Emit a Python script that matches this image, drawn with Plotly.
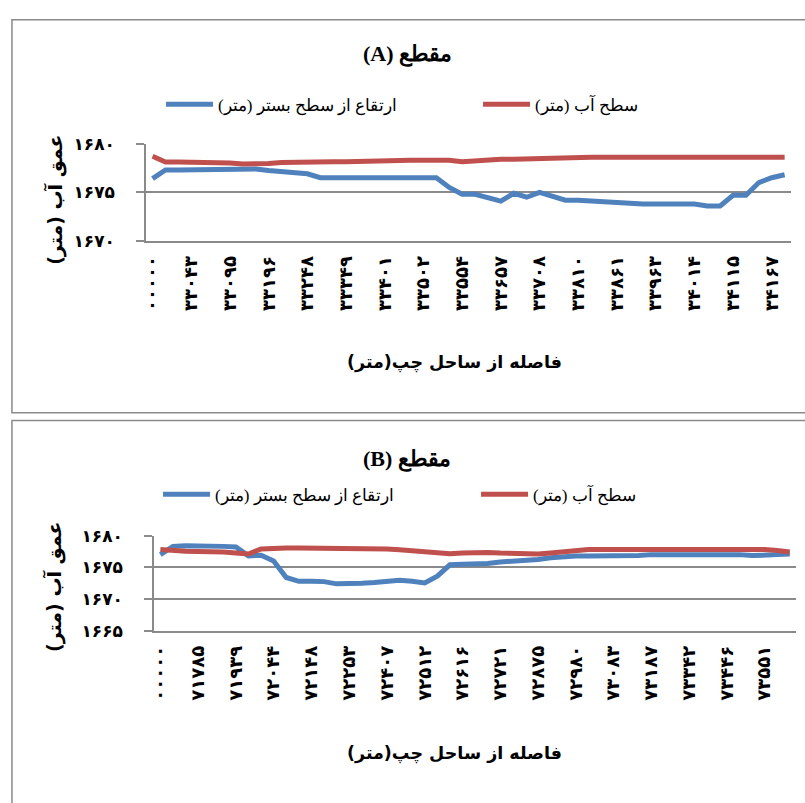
import plotly.graph_objects as go

# ---------------- data ----------------
ticks_A = ["۰۰۰۰۰", "۳۳۰۴۳", "۳۳۰۹۵", "۳۳۱۹۶", "۳۳۲۴۸", "۳۳۳۴۹", "۳۳۴۰۱", "۳۳۵۰۲", "۳۳۵۵۴",
           "۳۳۶۵۷", "۳۳۷۰۸", "۳۳۸۱۰", "۳۳۸۶۱", "۳۳۹۶۳", "۳۴۰۱۴", "۳۴۱۱۵", "۳۴۱۶۷"]
ticks_B = ["۰۰۰۰۰", "۷۱۷۸۵", "۷۱۹۳۹", "۷۲۰۴۴", "۷۲۱۴۸", "۷۲۲۵۳", "۷۲۴۰۷", "۷۲۵۱۲", "۷۲۶۱۶",
           "۷۲۷۲۱", "۷۲۸۷۵", "۷۲۹۸۰", "۷۳۰۸۳", "۷۳۱۸۷", "۷۳۳۴۲", "۷۳۴۴۶", "۷۳۵۵۱"]

bed_A = [1676.4, 1677.3, 1677.3, 1677.3, 1677.35, 1677.4, 1677.4, 1677.4, 1677.4, 1677.25,
         1677.15, 1677.05, 1676.9, 1676.5, 1676.5, 1676.5, 1676.5, 1676.5, 1676.5, 1676.5,
         1676.5, 1676.5, 1676.5, 1675.5, 1674.8, 1674.8, 1674.45, 1674.1, 1674.9, 1674.5,
         1675.0, 1674.6, 1674.2, 1674.2, 1674.1, 1674.0, 1673.9, 1673.85, 1673.8, 1673.8,
         1673.8, 1673.8, 1673.8, 1673.6, 1673.6, 1674.7, 1674.7, 1676.0, 1676.5, 1676.8]
water_A = [1678.7, 1678.1, 1678.1, 1678.1, 1678.1, 1678.1, 1678.0, 1677.9, 1677.9, 1677.95,
           1678.05, 1678.1, 1678.15, 1678.15, 1678.15, 1678.15, 1678.2, 1678.2, 1678.2, 1678.3,
           1678.3, 1678.3, 1678.3, 1678.3, 1678.15, 1678.25, 1678.35, 1678.4, 1678.4, 1678.45,
           1678.5, 1678.5, 1678.55, 1678.55, 1678.6, 1678.6, 1678.6, 1678.6, 1678.6, 1678.6,
           1678.6, 1678.6, 1678.6, 1678.6, 1678.6, 1678.6, 1678.6, 1678.6, 1678.6, 1678.6]

bed_B = [1677.0, 1678.3, 1678.4, 1678.4, 1678.35, 1678.3, 1678.2, 1676.8, 1676.9, 1676.0,
         1673.4, 1672.8, 1672.8, 1672.75, 1672.4, 1672.4, 1672.5, 1672.6, 1672.75, 1672.95,
         1672.8, 1672.55, 1673.6, 1675.4, 1675.5, 1675.55, 1675.6, 1675.85, 1675.95, 1676.0,
         1676.25, 1676.5, 1676.7, 1676.8, 1676.8, 1676.8, 1676.8, 1676.8, 1676.85, 1677.0,
         1677.0, 1677.0, 1677.05, 1677.0, 1677.0, 1677.05, 1677.0, 1676.85, 1677.0, 1677.0, 1677.1]
water_B = [1677.8, 1677.6, 1677.55, 1677.5, 1677.5, 1677.4, 1677.25, 1677.1, 1677.9, 1678.05,
           1678.05, 1678.05, 1678.05, 1678.05, 1678.05, 1678.0, 1678.0, 1677.95, 1677.9, 1677.75,
           1677.6, 1677.45, 1677.3, 1677.15, 1677.25, 1677.35, 1677.35, 1677.25, 1677.15, 1677.05,
           1677.1, 1677.25, 1677.45, 1677.65, 1677.8, 1677.8, 1677.8, 1677.8, 1677.8, 1677.8,
           1677.8, 1677.8, 1677.8, 1677.8, 1677.8, 1677.95, 1677.85, 1677.8, 1677.8, 1677.65, 1677.4]

yticks_A = [1670, 1675, 1680]
yticks_A_text = ["۱۶۷۰", "۱۶۷۵", "۱۶۸۰"]
yticks_B = [1665, 1670, 1675, 1680]
yticks_B_text = ["۱۶۶۵", "۱۶۷۰", "۱۶۷۵", "۱۶۸۰"]

name_bed = "ارتقاع از سطح بستر (متر)"
name_water = "سطح آب (متر)"
x_title = "فاصله از ساحل چپ(متر)"
y_title = "\u202bعمق آب (متر)\u202c"
title_A = "\u202bمقطع (A)\u202c"
title_B = "\u202bمقطع (B)\u202c"

# ---------------- styles ----------------
W, H = 805, 803
BLUE = "#4F81BD"
RED = "#C0504D"
GRID = "#8A8A8A"


def px(x):
    return x / W


def py(y):
    return 1 - y / H


fig = go.Figure()
xa = list(range(len(bed_A)))
xb = list(range(len(bed_B)))

LW = 5
fig.add_trace(go.Scatter(x=xa, y=bed_A, name=name_bed, mode="lines",
                         line=dict(color=BLUE, width=LW), xaxis="x", yaxis="y", legend="legend"))
fig.add_trace(go.Scatter(x=xa, y=water_A, name=name_water, mode="lines",
                         line=dict(color=RED, width=LW), xaxis="x", yaxis="y", legend="legend2"))
fig.add_trace(go.Scatter(x=xb, y=bed_B, name=name_bed, mode="lines",
                         line=dict(color=BLUE, width=LW), xaxis="x2", yaxis="y2", legend="legend3"))
fig.add_trace(go.Scatter(x=xb, y=water_B, name=name_water, mode="lines",
                         line=dict(color=RED, width=LW), xaxis="x2", yaxis="y2", legend="legend4"))

xtickfont = dict(size=18, family="DejaVu Sans", color="black", weight="bold")
ytickfont = dict(size=17, family="DejaVu Sans", color="black", weight="bold")


def xaxis_cfg(dom, n, labels, anchor):
    return dict(domain=dom, range=[-0.5, n - 0.5], tickvals=list(range(0, n, 3))[:len(labels)],
                ticktext=labels, tickangle=-90, tickfont=xtickfont, showgrid=False,
                showline=True, linecolor=GRID, linewidth=1.5, ticks="", zeroline=False,
                ticklabelstandoff=6, anchor=anchor, fixedrange=True)


def yaxis_cfg(dom, rng, vals, text, anchor):
    return dict(domain=dom, range=rng, tickvals=vals, ticktext=text, tickfont=ytickfont,
                showgrid=True, gridcolor=GRID, gridwidth=1.5, showline=True, linecolor=GRID,
                linewidth=1.5, ticks="outside", ticklen=8, tickcolor=GRID, tickwidth=1.5,
                ticklabelstandoff=18, zeroline=False, anchor=anchor, fixedrange=True)


legend_common = dict(orientation="h", xanchor="left", yanchor="middle",
                     font=dict(size=17, family="Liberation Serif", color="black"),
                     bgcolor="rgba(0,0,0,0)", itemwidth=47)

fig.update_layout(
    width=W, height=H, margin=dict(l=0, r=0, t=0, b=0),
    paper_bgcolor="white", plot_bgcolor="white", showlegend=True,
    xaxis=xaxis_cfg([px(142), px(791)], len(bed_A), ticks_A, "y"),
    yaxis=yaxis_cfg([py(237), py(137)], [1670, 1680], yticks_A, yticks_A_text, "x"),
    xaxis2=xaxis_cfg([px(150), px(796)], len(bed_B), ticks_B, "y2"),
    yaxis2=yaxis_cfg([py(636.7), py(539)], [1665, 1680], yticks_B, yticks_B_text, "x2"),
    legend=dict(x=px(157), y=py(97), **legend_common),
    legend2=dict(x=px(476), y=py(97), **legend_common),
    legend3=dict(x=px(154), y=py(497), **legend_common),
    legend4=dict(x=px(474), y=py(497), **legend_common),
    shapes=[
        dict(type="rect", xref="paper", yref="paper", x0=px(7), x1=1.02, y0=py(413), y1=py(10),
             line=dict(color=GRID, width=1.5)),
        dict(type="rect", xref="paper", yref="paper", x0=px(7), x1=1.02, y0=-0.02, y1=py(421),
             line=dict(color=GRID, width=1.5)),
    ],
)

title_font = dict(size=22, family="Liberation Serif", color="black", weight="bold")
axis_title_font = dict(size=17.5, family="DejaVu Sans", color="black", weight="bold")
ytitle_font = dict(size=19, family="DejaVu Sans", color="black", weight="bold")
ann = [
    dict(text=title_A, x=px(405), y=py(45), font=title_font),
    dict(text=title_B, x=px(405), y=py(460), font=title_font),
    dict(text=x_title, x=px(452), y=py(362), font=axis_title_font),
    dict(text=x_title, x=px(452), y=py(763), font=axis_title_font),
    dict(text=y_title, x=px(50), y=py(195), font=ytitle_font, textangle=-90),
    dict(text=y_title, x=px(50), y=py(592), font=ytitle_font, textangle=-90),
]
for a in ann:
    fig.add_annotation(xref="paper", yref="paper", showarrow=False,
                       xanchor="center", yanchor="middle", **a)

fig.write_html("out.html", config={"displayModeBar": False},
               post_script="document.body.style.margin='0';document.body.style.overflow='hidden';")
